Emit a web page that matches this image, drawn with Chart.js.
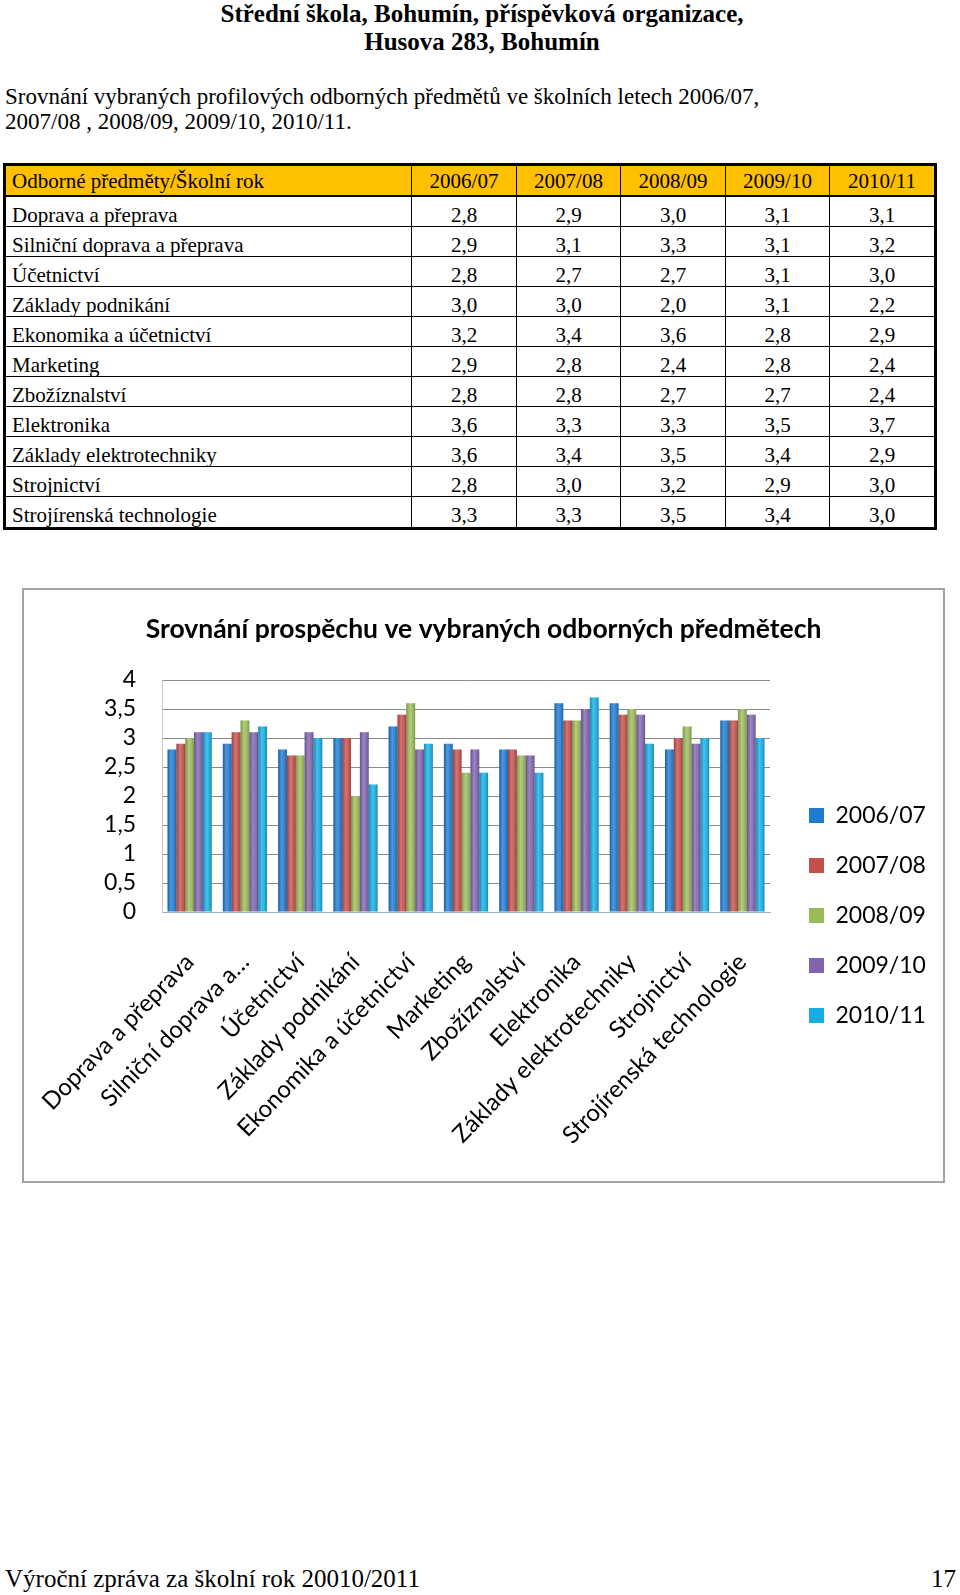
<!DOCTYPE html>
<html>
<head>
<meta charset="utf-8">
<script src="https://cdn.jsdelivr.net/npm/chart.js@4.4.1/dist/chart.umd.min.js"></script>
<style>
html,body{margin:0;padding:0;background:#fff;}
body{width:960px;height:1595px;position:relative;overflow:hidden;font-family:"Liberation Serif","Times New Roman",serif;color:#000;}
#head{position:absolute;left:0;top:0px;width:964px;text-align:center;font-weight:bold;font-size:25px;line-height:28px;}
#sub{position:absolute;left:5px;top:84px;font-size:23px;line-height:25px;white-space:nowrap;}
#tbl{position:absolute;left:3px;top:163px;width:934px;box-sizing:border-box;border:3px solid #000;font-size:21px;}
.row{display:flex;height:30px;box-sizing:border-box;border-bottom:1px solid #000;}
.row.hdr{height:31px;background:#FFC000;border-bottom:2px solid #000;}
.row.last{border-bottom:none;height:30px;}
.cell{box-sizing:border-box;border-right:1px solid #000;text-align:center;line-height:29px;white-space:nowrap;overflow:hidden;}
.cell span{position:relative;top:4px;}
.row.hdr .cell span{top:1px;}
.cell.name{text-align:left;padding-left:6px;}
.cell.end{border-right:none;}
#chartbox{position:absolute;left:22px;top:588px;width:923px;height:595px;box-sizing:border-box;border:2px solid #a3a3a3;background:#fff;}
#c{display:block;}
#foot{position:absolute;left:5px;top:1564px;font-size:25px;line-height:30px;white-space:nowrap;}
#page{position:absolute;right:4px;top:1564px;font-size:25px;line-height:30px;}
</style>
</head>
<body>
<div id="head">Střední škola, Bohumín, příspěvková organizace,<br>Husova 283, Bohumín</div>
<div id="sub">Srovnání vybraných profilových odborných předmětů ve školních letech 2006/07,<br>2007/08 , 2008/09, 2009/10, 2010/11.</div>
<div id="tbl"></div>
<div id="chartbox"><canvas id="c" width="919" height="591"></canvas></div>
<div id="foot">Výroční zpráva za školní rok 20010/2011</div>
<div id="page">17</div>
<script>
// ---- data ----
const categories = ['Doprava a přeprava','Silniční doprava a přeprava','Účetnictví','Základy podnikání','Ekonomika a účetnictví','Marketing','Zbožíznalství','Elektronika','Základy elektrotechniky','Strojnictví','Strojírenská technologie'];
const axisLabels = ['Doprava a přeprava','Silniční doprava a…','Účetnictví','Základy podnikání','Ekonomika a účetnictví','Marketing','Zbožíznalství','Elektronika','Základy elektrotechniky','Strojnictví','Strojírenská technologie'];
const years = ['2006/07','2007/08','2008/09','2009/10','2010/11'];
const v2006 = [2.8,2.9,2.8,3.0,3.2,2.9,2.8,3.6,3.6,2.8,3.3];
const v2007 = [2.9,3.1,2.7,3.0,3.4,2.8,2.8,3.3,3.4,3.0,3.3];
const v2008 = [3.0,3.3,2.7,2.0,3.6,2.4,2.7,3.3,3.5,3.2,3.5];
const v2009 = [3.1,3.1,3.1,3.1,2.8,2.8,2.7,3.5,3.4,2.9,3.4];
const v2010 = [3.1,3.2,3.0,2.2,2.9,2.4,2.4,3.7,2.9,3.0,3.0];
const yTickLabels = ['0','0,5','1','1,5','2','2,5','3','3,5','4'];
const tableHeader = 'Odborné předměty/Školní rok';
const chartTitle = 'Srovnání prospěchu ve vybraných odborných předmětech';
const colors = ['#1F7BD0','#C4504D','#9BBB59','#8064AE','#17ADE3'];
const series = [v2006, v2007, v2008, v2009, v2010];

// ---- table ----
const colW = [406,105,104,105,104,104];
const fmt = v => v.toFixed(1).replace('.', ',');
const tbl = document.getElementById('tbl');
function addRow(cells, cls){
  const r = document.createElement('div');
  r.className = 'row ' + cls;
  cells.forEach((t,i)=>{
    const c = document.createElement('div');
    c.className = 'cell' + (i===0?' name':'') + (i===cells.length-1?' end':'');
    c.style.width = colW[i] + 'px';
    const s = document.createElement('span');
    s.textContent = t;
    c.appendChild(s);
    r.appendChild(c);
  });
  tbl.appendChild(r);
}
addRow([tableHeader].concat(years), 'hdr');
categories.forEach((name, k)=>{
  addRow([name].concat(series.map(s=>fmt(s[k]))), k===categories.length-1?'last':'');
});

// ---- chart ----
const barShade = {
  id:'barShade',
  afterDatasetsDraw(chart){
    const ctx = chart.ctx;
    chart.data.datasets.forEach((ds,i)=>{
      const meta = chart.getDatasetMeta(i);
      meta.data.forEach(el=>{
        const p = el.getProps(['x','y','base','width'], true);
        const l = p.x - p.width/2;
        const g = ctx.createLinearGradient(l,0,l+p.width,0);
        g.addColorStop(0,'rgba(0,0,0,0.18)');
        g.addColorStop(0.4,'rgba(255,255,255,0.22)');
        g.addColorStop(0.6,'rgba(255,255,255,0.12)');
        g.addColorStop(1,'rgba(0,0,0,0.22)');
        ctx.save(); ctx.fillStyle = g; ctx.fillRect(l, p.y, p.width, p.base - p.y); ctx.restore();
      });
    });
  }
};
const legendFix = {
  id:'legendFix',
  afterInit(chart){
    const lg = chart.legend; if(!lg) return;
    const f = lg.fit.bind(lg);
    lg.fit = function(){ f(); this.width = 161; };
  }
};

new Chart(document.getElementById('c'), {
  type:'bar',
  data:{
    labels: axisLabels,
    datasets: years.map((y,i)=>({label:y, data:series[i], backgroundColor:colors[i], borderWidth:0, categoryPercentage:0.8, barPercentage:1.0}))
  },
  options:{
    responsive:false, animation:false, devicePixelRatio:1,
    layout:{padding:0},
    plugins:{
      title:{display:true, text:chartTitle, color:'#000', font:{family:'Lato', size:26.5, weight:'bold', lineHeight:1.2}, padding:{top:24, bottom:34.2}},
      legend:{position:'right', align:'center',
        labels:{font:{family:'Lato', size:23}, color:'#000', boxWidth:15, boxHeight:15, padding:27},
        title:{display:true, text:'', padding:{top:50, bottom:0}, font:{size:10, lineHeight:1}}},
      tooltip:{enabled:false}
    },
    scales:{
      x:{
        grid:{display:false, drawTicks:false},
        border:{display:true, color:'#9fb0c8'},
        ticks:{autoSkip:false, maxRotation:46, minRotation:46, padding:36, color:'#000', font:{family:'Lato', size:24}},
        afterFit(s){ s.height = 269; s.paddingLeft = 0; s.paddingRight = 0; }
      },
      y:{
        min:0, max:4,
        ticks:{stepSize:0.5, autoSkip:false, padding:26, color:'#000', font:{family:'Lato', size:23}, callback:(v,i)=>yTickLabels[i]},
        grid:{color:'#8a8a8a', drawTicks:false},
        border:{display:true, color:'#c8c8c8'},
        afterFit(s){ s.width = 138; }
      },
      y2:{
        position:'right', display:true,
        grid:{display:false, drawTicks:false},
        border:{display:false},
        ticks:{display:false},
        afterFit(s){ s.width = 12; }
      }
    }
  },
  plugins:[barShade, legendFix]
});
</script>
</body>
</html>
